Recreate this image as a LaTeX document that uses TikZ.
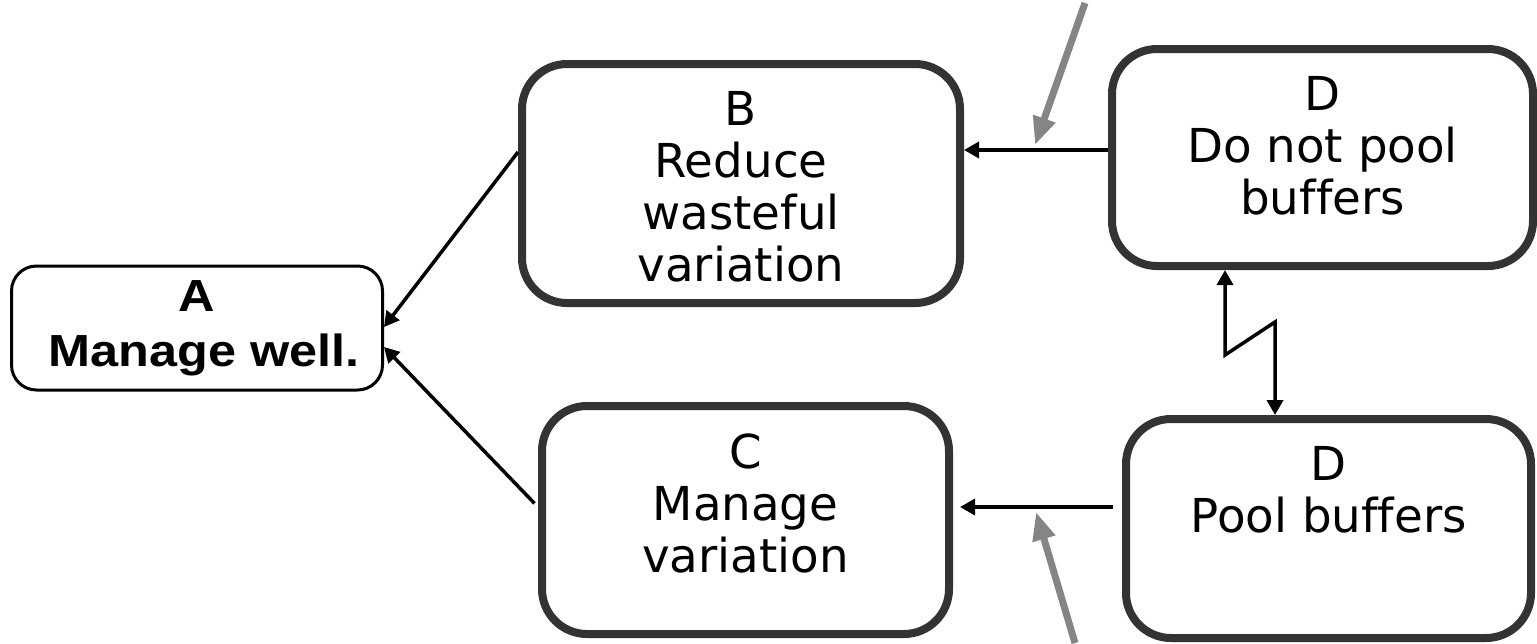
\documentclass[tikz,border=0pt]{standalone}
\usepackage{fontspec}
\setmainfont[Ligatures=NoCommon]{DejaVu Sans}
\newfontfamily\arialfont[FakeStretch=1.12]{Liberation Sans}
\usepackage{tikz}
\usetikzlibrary{arrows.meta,positioning}
\definecolor{boxgray}{HTML}{333333}
\definecolor{pengray}{HTML}{858585}

\tikzset{
  bigbox/.style={draw=boxgray, line width=0.16cm, rounded corners=0.9cm, fill=white},
  smallbox/.style={draw=black, line width=0.06cm, rounded corners=0.5cm, align=center, inner sep=0pt, font=\arialfont\bfseries\fontsize{25.6}{31.3}\selectfont},
  boxtext/.style={align=center, inner sep=0pt, font=\fontsize{26.6}{29.6}\selectfont},
  arr/.style={line width=0.07cm, >={Triangle[length=0.3cm,width=0.32cm]}, ->},
  grayarr/.style={draw=pengray, line width=0.14cm, -{Triangle[length=0.56cm,width=0.44cm]}},
}

\begin{document}
\begin{tikzpicture}
    \useasboundingbox (0,0) rectangle (30.74,-12.86);
    % boxes
    \node[smallbox, minimum width=7.42cm, minimum height=2.48cm] (A) at (3.94,-6.56) {A\\\ Manage well.};
    \node[bigbox, minimum width=8.76cm, minimum height=4.78cm] (B) at (14.82,-3.67) {};
    \node[bigbox, minimum width=8.14cm, minimum height=4.56cm] (C) at (14.91,-10.4) {};
    \node[bigbox, minimum width=8.42cm, minimum height=4.34cm] (D1) at (26.45,-3.15) {};
    \node[bigbox, minimum width=8.1cm, minimum height=4.38cm] (D2) at (26.57,-10.57) {};
    % texts
    \node[boxtext, below=0.62cm of B.north] (Blabel) {B\\Reduce\\wasteful\\variation};
    \node[boxtext, below=0.62cm of C.north] (Clabel) {C\\Manage\\variation};
    \node[boxtext, below=0.62cm of D1.north] (D1label) {D\\Do not pool\\buffers};
    \node[boxtext, below=0.62cm of D2.north] (D2label) {D\\Pool buffers};
    % arrows into A
    \draw[arr] ([yshift=0.63cm]B.west) -- ([yshift=0.02cm]A.east);
    \draw[arr, shorten <=0.1cm] ([yshift=0.26cm]C.west) -- ([yshift=-0.38cm]A.east);
    % arrows from D
    \coordinate (D1out) at ([yshift=0.15cm]D1.west);
    \coordinate (D2out) at ([yshift=0.43cm]D2.west);
    \draw[arr] (D1out) -- (D1out -| B.east);
    \draw[arr, shorten <=0.18cm, shorten >=0.14cm] (D2out) -- (D2out -| C.east);
    % conflict
    \coordinate (Z1) at (24.5,-7.1);
    \coordinate (Z2) at (25.5,-6.44);
    \draw[arr, <->] (D1.south -| Z1) -- (Z1) -- (Z2) -- (D2.north -| Z2);
    % gray arrows
    \coordinate (G1s) at (21.7,-0.06);
    \coordinate (G1e) at (20.7,-2.9);
    \coordinate (G2s) at (21.5,-12.86);
    \coordinate (G2e) at (20.72,-10.24);
    \draw[grayarr] (G1s) -- (G1e);
    \draw[grayarr] (G2s) -- (G2e);
\end{tikzpicture}
\end{document}
